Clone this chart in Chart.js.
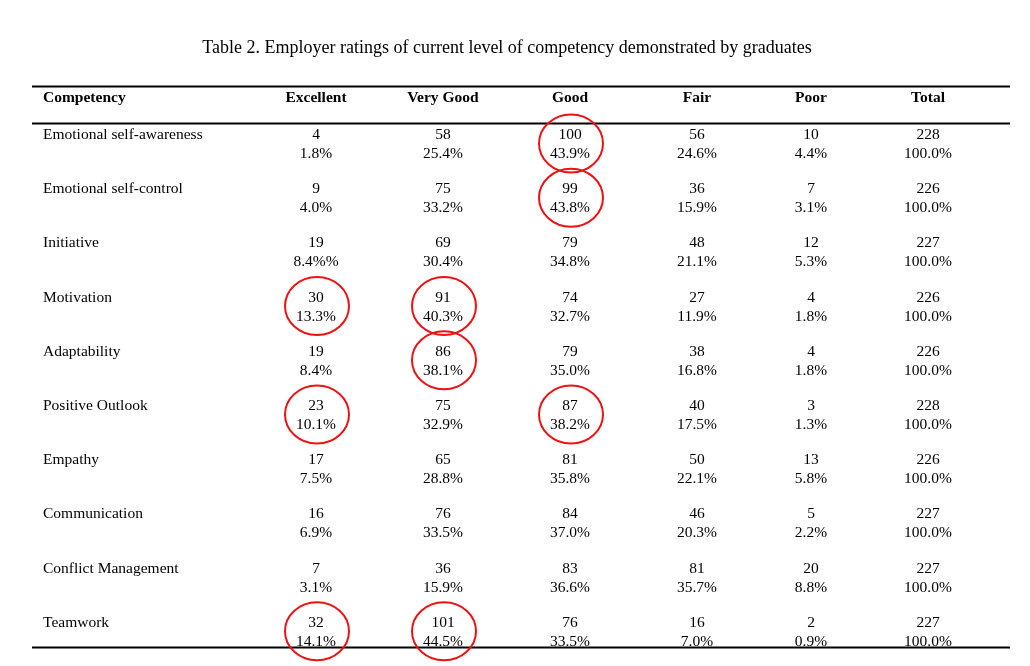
<!DOCTYPE html>
<html>
<head>
<meta charset="utf-8">
<script src="https://cdn.jsdelivr.net/npm/chart.js@4/dist/chart.umd.min.js"></script>
<style>
  html, body { margin: 0; padding: 0; background: #fff; }
  #wrap { width: 1030px; height: 666px; }
</style>
</head>
<body>
<div id="wrap"><canvas id="c" width="1030" height="666"></canvas></div>
<script>
// ---------- data ----------
const title = 'Table 2. Employer ratings of current level of competency demonstrated by graduates';
const headers = ['Competency', 'Excellent', 'Very Good', 'Good', 'Fair', 'Poor', 'Total'];
const competencies = ['Emotional self-awareness', 'Emotional self-control', 'Initiative', 'Motivation',
  'Adaptability', 'Positive Outlook', 'Empathy', 'Communication', 'Conflict Management', 'Teamwork'];

const excellentN   = [4, 9, 19, 30, 19, 23, 17, 16, 7, 32];
const excellentPct = ['1.8%', '4.0%', '8.4%%', '13.3%', '8.4%', '10.1%', '7.5%', '6.9%', '3.1%', '14.1%'];
const veryGoodN    = [58, 75, 69, 91, 86, 75, 65, 76, 36, 101];
const veryGoodPct  = ['25.4%', '33.2%', '30.4%', '40.3%', '38.1%', '32.9%', '28.8%', '33.5%', '15.9%', '44.5%'];
const goodN        = [100, 99, 79, 74, 79, 87, 81, 84, 83, 76];
const goodPct      = ['43.9%', '43.8%', '34.8%', '32.7%', '35.0%', '38.2%', '35.8%', '37.0%', '36.6%', '33.5%'];
const fairN        = [56, 36, 48, 27, 38, 40, 50, 46, 81, 16];
const fairPct      = ['24.6%', '15.9%', '21.1%', '11.9%', '16.8%', '17.5%', '22.1%', '20.3%', '35.7%', '7.0%'];
const poorN        = [10, 7, 12, 4, 4, 3, 13, 5, 20, 2];
const poorPct      = ['4.4%', '3.1%', '5.3%', '1.8%', '1.8%', '1.3%', '5.8%', '2.2%', '8.8%', '0.9%'];
const totalN       = [228, 226, 227, 226, 226, 228, 226, 227, 227, 227];
const totalPct     = ['100.0%', '100.0%', '100.0%', '100.0%', '100.0%', '100.0%', '100.0%', '100.0%', '100.0%', '100.0%'];

// highlighted (circled) cells: [row index, column index (1 = Excellent ... )]
const circled = [[0, 3], [1, 3], [3, 1], [3, 2], [4, 2], [5, 1], [5, 3], [9, 1], [9, 2]];

// ---------- layout (positions / styles) ----------
const colX = [43, 316, 443, 570, 697, 811, 928];   // x positions in scale units
const ruleX = [32, 1010];
const rowPos = { title: -1.76, topRule: -1.035, header: -0.84, headRule: -0.352, bottomRule: 9.317 };
const lineGap = 9.5;   // px between number and percentage centre
const textShift = 2;   // baseline correction
const serif = "'Liberation Serif', 'Times New Roman', serif";

const columns = [
  [excellentN, excellentPct], [veryGoodN, veryGoodPct], [goodN, goodPct],
  [fairN, fairPct], [poorN, poorPct], [totalN, totalPct]
];

const datasets = columns.map((col, ci) => ({
  label: headers[ci + 1],
  data: col[0].map((n, ri) => ({ x: colX[ci + 1], y: ri, n: n, pct: col[1][ri] })),
  pointRadius: 0,
  pointHoverRadius: 0,
  showLine: false
}));
datasets.push({
  label: 'labels',
  data: competencies.map((c, ri) => ({ x: colX[0], y: ri, name: c })),
  pointRadius: 0, pointHoverRadius: 0, showLine: false
});

const tablePlugin = {
  id: 'tablePlugin',
  afterDatasetsDraw(chart) {
    const ctx = chart.ctx;
    const xs = chart.scales.x, ys = chart.scales.y;
    ctx.save();
    ctx.fillStyle = '#000';
    ctx.textBaseline = 'middle';

    // title
    ctx.font = '18px ' + serif;
    ctx.textAlign = 'center';
    ctx.fillText(title, xs.getPixelForValue(507), ys.getPixelForValue(rowPos.title) + 1);

    // rules
    ctx.strokeStyle = '#000';
    ctx.lineWidth = 2;
    [rowPos.topRule, rowPos.headRule, rowPos.bottomRule].forEach(r => {
      const py = ys.getPixelForValue(r);
      ctx.beginPath();
      ctx.moveTo(xs.getPixelForValue(ruleX[0]), py);
      ctx.lineTo(xs.getPixelForValue(ruleX[1]), py);
      ctx.stroke();
    });

    // headers
    ctx.font = 'bold 15.5px ' + serif;
    headers.forEach((h, i) => {
      ctx.textAlign = i === 0 ? 'left' : 'center';
      ctx.fillText(h, xs.getPixelForValue(colX[i]), ys.getPixelForValue(rowPos.header) + 1.5);
    });

    // cells
    ctx.font = '15.5px ' + serif;
    chart.data.datasets.forEach((ds, di) => {
      const meta = chart.getDatasetMeta(di);
      meta.data.forEach((el, i) => {
        const d = ds.data[i];
        if (d.name !== undefined) {
          ctx.textAlign = 'left';
          ctx.fillText(d.name, el.x, el.y - lineGap + textShift);
        } else {
          ctx.textAlign = 'center';
          ctx.fillText(String(d.n), el.x, el.y - lineGap + textShift);
          ctx.fillText(d.pct, el.x, el.y + lineGap + textShift);
        }
      });
    });

    // red ellipses
    ctx.strokeStyle = '#ee1111';
    ctx.lineWidth = 2;
    circled.forEach(([r, c]) => {
      const el = chart.getDatasetMeta(c - 1).data[r];
      ctx.beginPath();
      ctx.ellipse(el.x + 1, el.y + 1, 32, 29, 0, 0, Math.PI * 2);
      ctx.stroke();
    });
    ctx.restore();
  }
};

new Chart(document.getElementById('c'), {
  type: 'scatter',
  data: { datasets },
  options: {
    responsive: false,
    animation: false,
    events: [],
    layout: { padding: 0 },
    plugins: { legend: { display: false }, title: { display: false }, tooltip: { enabled: false } },
    scales: {
      x: { type: 'linear', min: 0, max: 1030, display: false },
      y: { type: 'linear', reverse: true, min: -2.629, max: 9.659, display: false }
    }
  },
  plugins: [tablePlugin]
});
</script>
</body>
</html>
